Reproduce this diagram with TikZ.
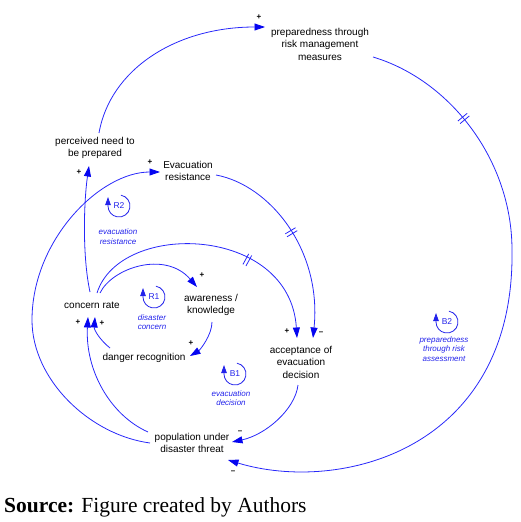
\documentclass[tikz,border=0pt]{standalone}
\usepackage{fontspec}
\setmainfont{Liberation Sans}
\newfontfamily\timesfont{Liberation Serif}
\usetikzlibrary{arrows.meta,calc,decorations.markings}
\definecolor{lnblue}{RGB}{40,40,250}
\definecolor{tipblue}{RGB}{5,5,240}
\definecolor{lblblue}{RGB}{35,35,235}
\begin{document}
\begin{tikzpicture}[x=1pt,y=-1pt,
  var/.style={align=center, font=\fontsize{10}{12.5}\selectfont, inner sep=0pt},
  link/.style={draw=lnblue, line width=0.8pt, -{Triangle[length=10.5pt,width=7pt,color=tipblue]}},
  pol/.style={font=\fontsize{8}{8}\selectfont\bfseries, inner sep=0pt},
  looplbl/.style={align=center, text=lblblue, font=\fontsize{8}{9.5}\selectfont\itshape, inner sep=0pt},
  loopname/.style={text=lblblue, font=\fontsize{8.5}{8.5}\selectfont, inner sep=0pt},
  loopsym/.style={draw=lblblue, line width=0.8pt, -{Triangle[length=8pt,width=5.5pt]}},
  delaymark/.style={postaction={decorate}, decoration={markings, mark=at position #1 with {\draw[-, lnblue, line width=0.8pt] (-1.7,-6)--(-1.7,6) (1.7,-6)--(1.7,6);}}}
]
\useasboundingbox (0,0) rectangle (520,522);

% variables
\node[var] (prep) at (320,44) {preparedness through\\risk management\\measures};
\node[var] (perc) at (95,148) {perceived need to\\be prepared};
\node[var] (evac) at (188,171) {Evacuation\\resistance};
\node[var] (cr) at (92,305) {concern rate};
\node[var] (aw) at (211,305) {awareness /\\knowledge};
\node[var] (dr) at (144,358) {danger recognition};
\node[var] (acc) at (301,362) {acceptance of\\evacuation\\decision};
\node[var] (pop) at (192,443) {population under\\disaster threat};

% links
\draw[link] ($(perc)+(4,-15)$) .. controls +(11,-63) and +(-90,0) .. ($(prep)+(-55,-17)$);
\draw[link, delaymark=0.165] ($(prep)+(53,13)$) .. controls +(77,23) and +(0,-90) .. (512,250)
   .. controls +(3,200) and +(112,34) .. ($(pop)+(36,17)$);
\draw[link, delaymark=0.47] ($(evac)+(28,4)$) .. controls +(54,10) and +(9,-88) .. ($(acc)+(12,-24)$);
\draw[link, delaymark=0.64] ($(cr)+(5,-12)$) .. controls +(23,-73) and +(-7,-113) .. ($(acc)+(-4,-24)$);
\draw[link] ($(cr)+(8,-12)$) .. controls +(12,-25) and +(-32,-37) .. ($(aw)+(-14,-18)$);
\draw[link] ($(aw)+(1,17)$) .. controls +(0,13) and +(10,-6) .. ($(dr)+(46,-2)$);
\draw[link] ($(dr)+(-34,-10)$) .. controls +(-10,-8) and +(-1,13) .. ($(cr)+(3,12)$);
\draw[link] ($(pop)+(-44,-11)$) .. controls +(-38,-17) and +(-3,53) .. ($(cr)+(-4,12)$);
\draw[link] ($(pop)+(-42,0)$) .. controls +(-60,-8) and +(0,60) .. (32,320)
   .. controls +(0,-80) and +(-60,0) .. ($(evac)+(-28,1)$);
\draw[link] ($(acc)+(-3,23)$) .. controls +(-3,25) and +(33,-7) .. ($(pop)+(40,-1)$);
\draw[link] ($(cr)+(-2,-13)$) .. controls +(-8,-37) and +(-5,34) .. ($(perc)+(-6,18)$);

% polarities
\node[pol] (p1) at (259,17) {+};
\node[pol] (p2) at (79,172) {+};
\node[pol] (p3) at (150,162) {+};
\node[pol] (p4) at (202,275) {+};
\node[pol] (p5) at (191,343) {+};
\node[pol] (p6) at (78,322) {+};
\node[pol] (p7) at (102,323) {+};
\node[pol] (p8) at (287,331) {+};
\node[pol] (m1) at (321,333) {\textendash};
\node[pol] (m2) at (240,432) {\textendash};
\node[pol] (m3) at (233,472) {\textendash};

% loop markers
\coordinate (r2) at (119,206);
\coordinate (r1) at (154,297);
\coordinate (b1) at (235,374);
\coordinate (b2) at (447,322);
\foreach \c/\t in {r2/R2, r1/R1, b1/B1, b2/B2}{
  \draw[loopsym] (\c) ++(-80:11) arc[start angle=-80, end angle=180, radius=11] -- ++(0,-9);
  \node[loopname] at (\c) {\t};
}
\node[looplbl] (l2) at (118,236.5) {evacuation\\resistance};
\node[looplbl] (l1) at (152,322) {disaster\\concern};
\node[looplbl] (lb1) at (231,398) {evacuation\\decision};
\node[looplbl] (lb2) at (444,349) {preparedness\\through risk\\assessment};

% source
\node[anchor=west, inner sep=0pt, font=\timesfont\fontsize{21.5}{21.5}\selectfont] (src) at (4,507) {\textbf{Source:} Figure created by Authors};
\end{tikzpicture}
\end{document}
